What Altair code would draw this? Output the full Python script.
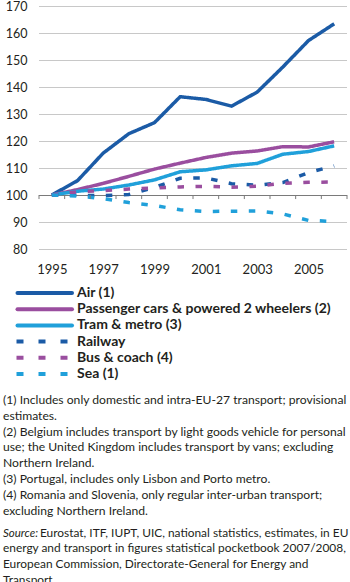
import altair as alt
import pandas as pd

years = list(range(1995, 2007))
series = ["Air (1)", "Passenger cars & powered 2 wheelers (2)", "Tram & metro (3)",
          "Railway", "Bus & coach (4)", "Sea (1)"]
air = [100, 105.3, 115.5, 122.7, 126.8, 136.4, 135.4, 132.9, 138.1, 147.4, 157.2, 163.4]
cars = [100, 102.0, 104.3, 106.9, 109.6, 111.8, 113.9, 115.5, 116.3, 117.9, 117.8, 119.7]
tram = [100, 101.4, 102.2, 103.7, 105.6, 108.6, 109.3, 110.8, 111.7, 115.1, 116.1, 118.2]
rail = [100, 99.9, 99.8, 100.2, 102.8, 106.2, 106.3, 104.2, 103.6, 104.6, 108.3, 110.8]
bus = [100, 101.2, 101.6, 102.2, 102.6, 103.0, 103.2, 102.9, 103.3, 104.3, 104.7, 104.8]
sea = [100, 99.6, 98.7, 97.2, 96.1, 94.5, 93.9, 94.0, 94.1, 93.0, 90.6, 90.2]

colors = ["#1b5ba6", "#9a4e9f", "#20a0da", "#1b5ba6", "#9a4e9f", "#20a0da"]
y_ticks = list(range(80, 171, 10))
x_labels = [1995, 1997, 1999, 2001, 2003, 2005]

footnotes = [
    "(1) Includes only domestic and intra-EU-27 transport; provisional",
    "estimates.",
    "(2) Belgium includes transport by light goods vehicle for personal",
    "use; the United Kingdom includes transport by vans; excluding",
    "Northern Ireland.",
    "(3) Portugal, includes only Lisbon and Porto metro.",
    "(4) Romania and Slovenia, only regular inter-urban transport;",
    "excluding Northern Ireland.",
]
source_label = "Source:"
source_first = "Eurostat, ITF, IUPT, UIC, national statistics, estimates, in EU"
source_rest = [
    "energy and transport in figures statistical pocketbook 2007/2008,",
    "European Commission, Directorate-General for Energy and",
    "Transport",
]

FONT = "Lato"
TXT = "#231f20"
NOTE_SIZE = 12.15
SRC_SIZE = 11.9
W, H = 308, 243

rows = []
for name, vals in zip(series, [air, cars, tram, rail, bus, sea]):
    for yr, v in zip(years, vals):
        rows.append({"year": yr, "value": v, "series": name})
df = pd.DataFrame(rows)

x_lo, x_hi = years[0] - 0.5, years[-1] + 0.5
x_scale = alt.Scale(domain=[x_lo, x_hi], nice=False, zero=False)
y_scale = alt.Scale(domain=[y_ticks[0], y_ticks[-1]], nice=False, zero=False)
color_scale = alt.Scale(domain=series, range=colors)
dash_range = [[1, 0], [1, 0], [1, 0], [6.5, 11.5], [6.5, 11.5], [6.5, 11.5]]

x_axis = alt.Axis(values=x_labels, format="d", grid=False, ticks=False, domain=False,
                  labelFont=FONT, labelFontSize=13, labelColor=TXT, labelPadding=14)
y_axis = alt.Axis(values=y_ticks, grid=False, ticks=False, domain=False, labelFont=FONT,
                  labelFontSize=12.5, labelColor=TXT, labelPadding=12)

# gridlines drawn as two-point line segments (one per y tick)
grid_df = pd.DataFrame([{"gx": gx, "gy": gy} for gy in y_ticks for gx in (x_lo, x_hi)])
grid = alt.Chart(grid_df).mark_line(color="#c8c8c8", strokeWidth=1, yOffset=0.5).encode(
    x=alt.X("gx:Q", scale=x_scale, title=None, axis=x_axis),
    y=alt.Y("gy:Q", scale=y_scale, title=None, axis=y_axis),
    detail="gy:Q",
)
base_df = pd.DataFrame({"bx": [x_lo, x_hi], "by": [100, 100]})
base_line = alt.Chart(base_df).mark_line(color="#7a7a7a", strokeWidth=1, yOffset=0.5).encode(
    x=alt.X("bx:Q", scale=x_scale, title=None, axis=x_axis),
    y=alt.Y("by:Q", scale=y_scale, title=None, axis=y_axis),
)

lines = alt.Chart(df).mark_line(strokeWidth=3.5, strokeCap="butt").encode(
    x=alt.X("year:Q", scale=x_scale, title=None, axis=x_axis),
    y=alt.Y("value:Q", scale=y_scale, title=None, axis=y_axis),
    color=alt.Color("series:N", scale=color_scale, legend=None),
    strokeDash=alt.StrokeDash("series:N", scale=alt.Scale(domain=series, range=dash_range), legend=None),
    order=alt.Order("year:Q"),
)

tick_pos = [y - 0.5 for y in years] + [years[-1] + 0.5]
ticks = alt.Chart(pd.DataFrame({"t": tick_pos})).mark_rule(color="#7a7a7a", strokeWidth=1).encode(
    x=alt.X("t:Q", scale=x_scale, title=None, axis=x_axis),
    y=alt.Y(datum=100, scale=y_scale, title=None, axis=y_axis),
    y2=alt.Y2(datum=98.5),
)

# custom legend below the plot: one row per series, rows spaced in pixels
legend_layers = []
for i, name in enumerate(series):
    row_y = 287 + 16.2 * i
    row = alt.Chart(pd.DataFrame({"series": [name]}))
    if i < 3:
        sym = row.mark_rule(strokeWidth=4, strokeCap="round").encode(
            x=alt.value(-21.5), x2=alt.value(33), y=alt.value(row_y),
            color=alt.Color("series:N", scale=color_scale, legend=None),
        )
    else:
        sym = row.mark_rule(strokeWidth=4, strokeDash=[7, 15]).encode(
            x=alt.value(-22.5), x2=alt.value(35.5), y=alt.value(row_y),
            color=alt.Color("series:N", scale=color_scale, legend=None),
        )
    lab = row.mark_text(align="left", baseline="middle", font=FONT, fontSize=14,
                        fontWeight="bold", color=TXT).encode(
        x=alt.value(38), y=alt.value(row_y), text="series:N",
    )
    legend_layers += [sym, lab]

one = pd.DataFrame({"k": [0]})
notes = alt.Chart(one).mark_text(
    text=footnotes, align="left", baseline="alphabetic", font=FONT, fontSize=NOTE_SIZE,
    lineHeight=15.8, color=TXT,
).encode(x=alt.value(-36), y=alt.value(398))

src_label = alt.Chart(one).mark_text(
    text=source_label, align="left", baseline="alphabetic", font=FONT, fontSize=11.5,
    fontStyle="italic", color=TXT,
).encode(x=alt.value(-36), y=alt.value(531))

src_first = alt.Chart(one).mark_text(
    text=source_first, align="left", baseline="alphabetic", font=FONT, fontSize=SRC_SIZE, color=TXT,
).encode(x=alt.value(1), y=alt.value(531))

src_rest = alt.Chart(one).mark_text(
    text=source_rest, align="left", baseline="alphabetic", font=FONT, fontSize=SRC_SIZE,
    lineHeight=15.6, color=TXT,
).encode(x=alt.value(-36), y=alt.value(546.4))

chart = alt.layer(grid, base_line, lines, ticks, *legend_layers,
                  notes, src_label, src_first, src_rest).properties(
    width=W, height=H,
    autosize=alt.AutoSizeParams(type="none"),
    padding={"left": 39, "top": 6, "right": 3, "bottom": 333},
).configure_view(stroke=None)

chart.save("out.html", embed_options={"renderer": "svg", "actions": False})
